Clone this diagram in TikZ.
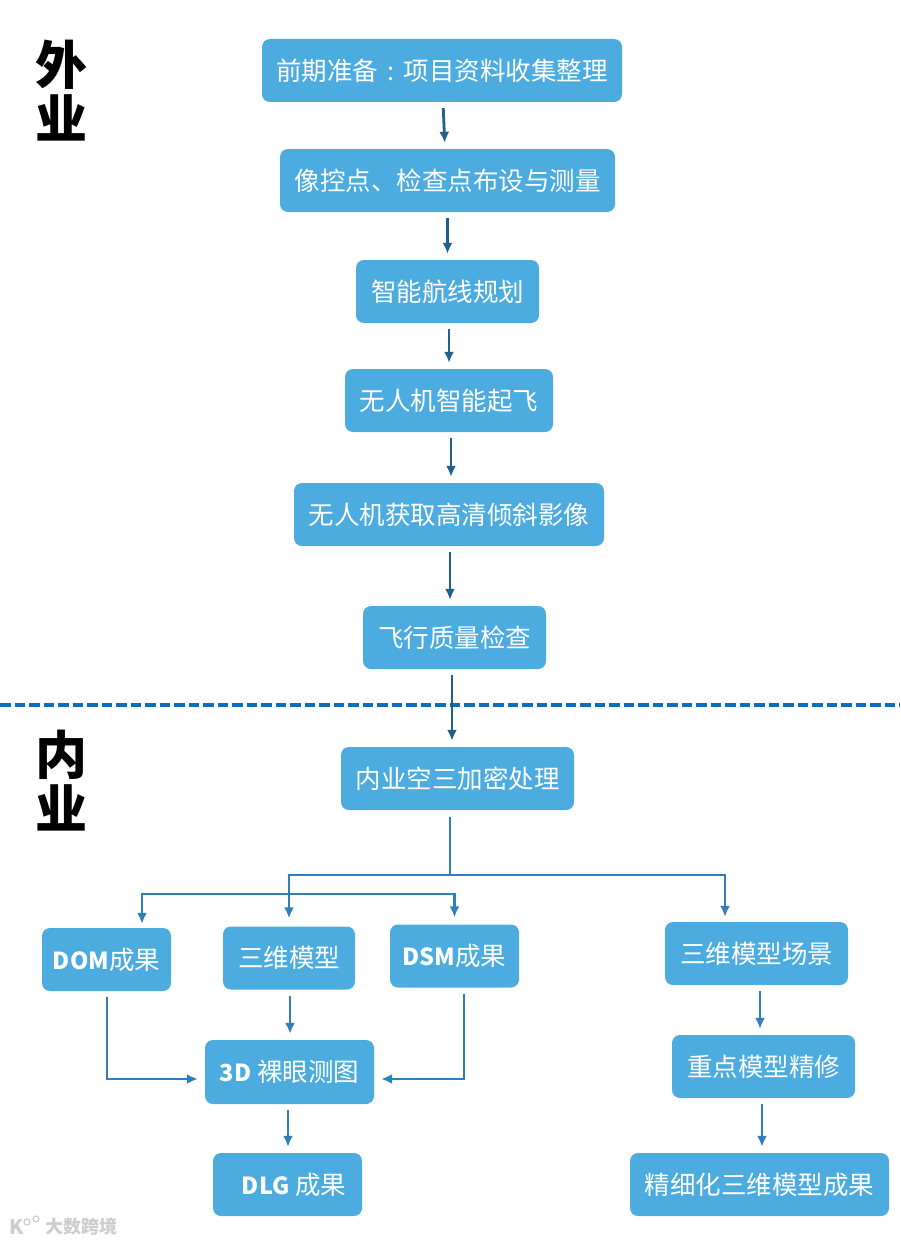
\documentclass[tikz,border=0pt]{standalone}
\usepackage{fontspec}
\setmainfont{Noto Sans CJK SC}
\newcommand{\latinbold}[1]{{\fontsize{23.5}{30}\selectfont\bfseries #1}}
\usepackage{tikz}
\usetikzlibrary{arrows.meta,shapes,positioning}
\usepackage{xcolor}
\definecolor{flowblue}{RGB}{77,172,223}
\definecolor{flowdark}{RGB}{31,96,143}
\definecolor{flowmid}{RGB}{47,127,186}
\definecolor{flowdash}{RGB}{15,108,181}
\definecolor{markgray}{RGB}{205,205,205}
\tikzstyle{arrow} = [line width=2.8pt,-{Latex[length=11pt,width=10pt]},color=flowdark,shorten <=6pt,shorten >=6pt]
\tikzstyle{branch} = [line width=2.8pt,-{Latex[length=11pt,width=10pt]},color=flowmid]
\tikzstyle{stage} = [rectangle, rounded corners=8pt, inner sep=0pt, minimum height=63pt, text centered, fill=flowblue, text=white, font=\fontsize{25.5}{30}\selectfont]
\tikzstyle{side} = [inner sep=0pt, align=center, text=black, font=\fontsize{52}{54}\selectfont\bfseries]

\begin{document}
\begin{tikzpicture}[x=1pt,y=-1pt]
\useasboundingbox (0,0) rectangle (900,1244);
% Field work
\node (side1) [side] at (61,91) {外\\业};
\node (prep) [stage, minimum width=360pt] at (442,70.5) {前期准备\makebox[25.5pt]{:}项目资料收集整理};
\node (control) [stage, minimum width=335pt] at (447.5,180.5) {像控点、检查点布设与测量};
\node (route) [stage, minimum width=183pt] at (447.5,291.5) {智能航线规划};
\node (takeoff) [stage, minimum width=208pt] at (449,400.5) {无人机智能起飞};
\node (capture) [stage, minimum width=310pt] at (449,514.5) {无人机获取高清倾斜影像};
\node (quality) [stage, minimum width=183pt] at (454.5,637.5) {飞行质量检查};

% Divider
\coordinate (divl) at (0,705);
\coordinate (divr) at (900,705);
\draw[line width=4.5pt,color=flowdash,dash pattern=on 10.5pt off 4pt] (divl) -- (divr);

% Office work
\node (side2) [side] at (61,781) {内\\业};
\node (aerial) [stage, minimum width=233pt] at (457.5,778.5) {内业空三加密处理};
\node (dom) [stage, minimum width=129pt] at (106.5,959.5) {\latinbold{DOM}成果};
\node (model) [stage, minimum width=132pt] at (289,958) {三维模型};
\node (dsm) [stage, minimum width=129pt] at (454.5,956) {\latinbold{DSM}成果};
\node (scene) [stage, minimum width=183pt] at (756.5,953.5) {三维模型场景};
\node (refine) [stage, minimum width=183pt] at (763.5,1066.5) {重点模型精修};
\node (naked) [stage, minimum width=169pt, minimum height=64pt] at (289.5,1072) {\latinbold{3D} 裸眼测图};
\node (dlg) [stage, minimum width=149pt] at (287.5,1184.5) {\hspace{13pt}\latinbold{DLG} 成果};
\node (fine) [stage, minimum width=259pt] at (759.5,1184.5) {精细化三维模型成果};

% Straight arrows
\draw[arrow] ([xshift=1pt]prep.south) -- ([xshift=-2.5pt]control.north);
\draw[arrow] (control) -- (route);
\draw[arrow] ([xshift=1.5pt]route.south) -- (takeoff.north);
\draw[arrow] ([xshift=2pt]takeoff.south) -- ([xshift=2pt]capture.north);
\draw[arrow] ([xshift=1pt]capture.south) -- ([xshift=-4.5pt]quality.north);
\draw[arrow] ([xshift=-2.5pt]quality.south) -- ([xshift=-5.5pt]aerial.north);
\draw[arrow,color=flowmid] ([xshift=1pt]model.south) -- ([xshift=.5pt]naked.north);
\draw[arrow,color=flowmid] ([xshift=-1.5pt]naked.south) -- ([xshift=.5pt]dlg.north);
\draw[arrow,color=flowmid] ([xshift=3.5pt]scene.south) -- ([xshift=-3.5pt]refine.north);
\draw[arrow,color=flowmid] ([xshift=-1.5pt]refine.south) -- ([xshift=2.5pt]fine.north);

% Branches below the aerial step
\coordinate (bus) at (450,875);
\coordinate (lowbus) at (290,894);
\draw[branch,-] ([xshift=-7.5pt,yshift=-7pt]aerial.south) -- (bus);
\draw[branch,shorten >=8pt] (bus) -| (model.north);
\draw[branch,shorten >=5pt] (bus) -| (scene.north -| 725,0);
\draw[branch,shorten >=4pt] (lowbus) -| ([xshift=35.5pt]dom.north);
\draw[branch,shorten >=7pt] (lowbus) -| (dsm.north);

% Side inputs
\draw[branch,shorten >=7pt] ([yshift=-6pt,xshift=.5pt]dom.south) |- (naked.west |- 0,1079);
\draw[branch,shorten >=7pt] ([yshift=-6pt,xshift=9.5pt]dsm.south) |- (naked.east |- 0,1079);

% Watermark
\node (mark) [inner sep=0pt, text=markgray, font=\fontsize{18}{20}\selectfont\bfseries] at (81,1227) {大数跨境};
\node (logo) [inner sep=0pt, text=markgray, font=\fontsize{20}{20}\selectfont\bfseries] at (17,1227) {K};
\draw[markgray,line width=1.2pt] (27,1222) circle (3pt) (36,1219) circle (3pt);
\end{tikzpicture}
\end{document}
